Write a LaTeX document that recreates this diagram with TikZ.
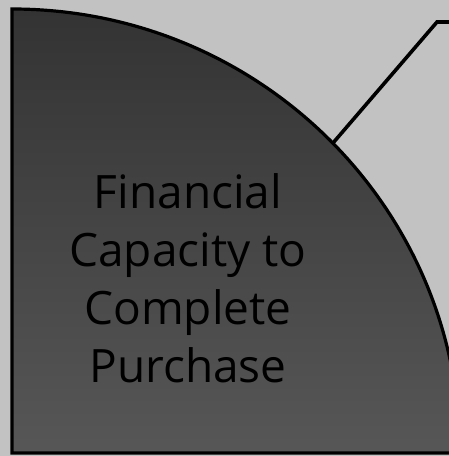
\documentclass[tikz,border=0pt]{standalone}
\usepackage{fontspec}
\setmainfont{Open Sans}
\usetikzlibrary{positioning}

\begin{document}
\begin{tikzpicture}[x=1pt, y=1pt]
  \colorlet{pagebg}{black!24}
  \colorlet{quarterTop}{black!80}
  \colorlet{quarterBot}{black!66}

  \tikzset{
    rim/.style={draw=black, line width=3.2pt},
    label text/.style={
      align=center, text=black,
      font=\fontsize{46}{58}\selectfont
    },
    leader/.style={draw=black, line width=3.6pt, line cap=butt}
  }

  \useasboundingbox (0,0) rectangle (449,456);
  \clip (0,0) rectangle (449,456);
  \fill[pagebg] (0,0) rectangle (449,456);

  % quarter sector
  \path[rim, top color=quarterTop, bottom color=quarterBot]
    (12,3) -- (12,447) arc[start angle=90, end angle=0,
      x radius=448, y radius=444] -- cycle;

  \node[label text] (capacity) at (188,178)
    {Financial\\Capacity to\\Complete\\Purchase};

  % leader line off the arc
  \coordinate (onarc) at (333,313);
  \coordinate (bend) at (437,434);
  \coordinate (tail) at (460,434);
  \draw[leader] (onarc) -- (bend) -- (tail);
\end{tikzpicture}
\end{document}
